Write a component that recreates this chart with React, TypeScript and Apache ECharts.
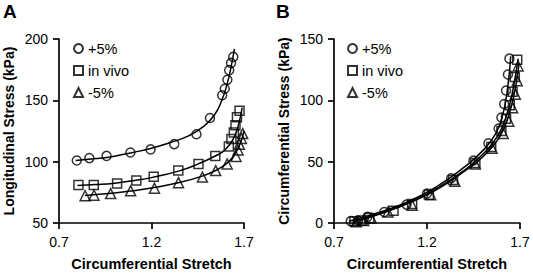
import React, { useEffect, useRef } from "react";
import * as echarts from "echarts";

// Panel A (longitudinal stress) measured points
const aCircleX = [0.796, 0.864, 0.957, 1.086, 1.195, 1.323, 1.443, 1.516, 1.582, 1.596, 1.61, 1.62, 1.63, 1.642];
const aCircleY = [101.0, 102.9, 104.7, 107.5, 110.0, 114.3, 122.4, 135.6, 154.2, 159.5, 166.7, 174.6, 180.5, 185.4];
const aSquareX = [0.805, 0.888, 1.014, 1.118, 1.212, 1.345, 1.454, 1.545, 1.618, 1.632, 1.645, 1.654, 1.662, 1.676];
const aSquareY = [81.0, 81.0, 82.3, 84.7, 87.7, 92.7, 98.1, 104.6, 112.3, 118.4, 123.7, 129.6, 136.3, 141.6];
const aTriX = [0.841, 0.889, 0.979, 1.087, 1.216, 1.346, 1.475, 1.547, 1.609, 1.657, 1.668, 1.675, 1.686, 1.693];
const aTriY = [72.2, 72.7, 74.0, 76.2, 78.3, 82.9, 87.4, 92.7, 98.1, 104.2, 109.5, 114.1, 118.9, 122.9];

// Panel A fitted curves
const aFitCircleX = [0.79, 0.9, 1.0, 1.1, 1.2, 1.3, 1.4, 1.48, 1.54, 1.58, 1.61, 1.63, 1.648];
const aFitCircleY = [101, 102.5, 104.5, 107.5, 111, 115.5, 121, 128.5, 138, 150, 164, 177, 192];
const aFitSquareX = [0.8, 0.9, 1.0, 1.1, 1.2, 1.35, 1.45, 1.55, 1.6, 1.64, 1.67, 1.69];
const aFitSquareY = [80.5, 81.3, 82.5, 84.5, 87, 92.5, 98, 105, 110, 118, 130, 144];
const aFitTriX = [0.84, 0.9, 1.0, 1.1, 1.2, 1.35, 1.47, 1.55, 1.61, 1.65, 1.68, 1.7];
const aFitTriY = [72.5, 73.2, 74.5, 76.3, 78.5, 83, 88, 93, 99, 106, 115, 125];

// Panel B (circumferential stress) measured points
const bCircleX = [0.79, 0.83, 0.88, 0.97, 1.09, 1.2, 1.33, 1.45, 1.53, 1.585, 1.6, 1.615, 1.625, 1.635, 1.643];
const bCircleY = [1.5, 2.0, 5.0, 9.0, 15.0, 24.0, 36.5, 51.0, 65.0, 77.0, 86.0, 97.0, 108.0, 121.0, 134.0];
const bSquareX = [0.81, 0.85, 0.89, 1.02, 1.12, 1.21, 1.34, 1.46, 1.545, 1.6, 1.625, 1.645, 1.66, 1.672, 1.685];
const bSquareY = [1.5, 2.0, 4.0, 10.0, 15.5, 23.0, 35.0, 49.0, 62.0, 75.0, 85.0, 96.0, 107.0, 119.0, 133.0];
const bTriX = [0.82, 0.86, 0.9, 0.99, 1.12, 1.22, 1.35, 1.46, 1.55, 1.61, 1.64, 1.66, 1.675, 1.685, 1.69];
const bTriY = [1.0, 2.0, 4.0, 9.0, 14.5, 23.0, 34.0, 48.0, 61.0, 73.0, 83.0, 94.0, 105.0, 116.0, 128.0];

// Panel B fitted curves
const bFitCircleX = [0.78, 0.95, 1.1, 1.25, 1.4, 1.5, 1.57, 1.61, 1.635, 1.65];
const bFitCircleY = [1.5, 9, 17.5, 29.5, 45.5, 59, 73, 90, 112, 136];
const bFitSquareX = [0.8, 0.95, 1.1, 1.25, 1.4, 1.5, 1.58, 1.63, 1.665, 1.69];
const bFitSquareY = [1, 8, 16.5, 28, 43, 56, 71, 89, 111, 134];
const bFitTriX = [0.81, 0.95, 1.1, 1.25, 1.4, 1.5, 1.59, 1.64, 1.675, 1.695];
const bFitTriY = [1, 7.5, 16, 27, 42, 54, 70, 88, 110, 130];

const seriesNames = ["+5%", "in vivo", "-5%"];
const symbols = ["circle", "rect", "triangle"];
const xTicks = [0.7, 1.2, 1.7];
const aYTicks = [50, 100, 150, 200];
const bYTicks = [0, 50, 100, 150];

const FONT = "Liberation Sans, Arial, Helvetica, sans-serif";

const zip = (xs: number[], ys: number[]) => xs.map((x, i) => [x, ys[i]]);

function xAxisCfg(gridIndex: number) {
  return {
    type: "value",
    gridIndex,
    min: 0.7,
    max: 1.7,
    name: "Circumferential Stretch",
    nameLocation: "middle",
    nameGap: 33,
    nameTextStyle: { fontFamily: FONT, fontWeight: "bold", fontSize: 14.5, color: "#000" },
    axisLine: { show: true, onZero: false, lineStyle: { color: "#000", width: 1.7 } },
    axisTick: { show: true, length: 6, customValues: xTicks, lineStyle: { color: "#000", width: 1.7 } },
    axisLabel: {
      customValues: xTicks,
      formatter: (v: number) => v.toFixed(1),
      fontFamily: FONT,
      fontSize: 14,
      color: "#000",
      margin: 12,
    },
    splitLine: { show: false },
  };
}

function yAxisCfg(gridIndex: number, min: number, max: number, ticks: number[], name: string) {
  return {
    type: "value",
    gridIndex,
    min,
    max,
    interval: 50,
    name,
    nameLocation: "middle",
    nameGap: 43,
    nameTextStyle: { fontFamily: FONT, fontWeight: "bold", fontSize: 14, color: "#000" },
    axisLine: { show: true, onZero: false, lineStyle: { color: "#000", width: 1.7 } },
    axisTick: { show: true, length: 6, customValues: ticks, lineStyle: { color: "#000", width: 1.7 } },
    axisLabel: { customValues: ticks, fontFamily: FONT, fontSize: 14, color: "#000", margin: 11 },
    splitLine: { show: false },
  };
}

function scatter(name: string, symbol: string, idx: number, data: number[][]) {
  return {
    type: "scatter",
    name,
    xAxisIndex: idx,
    yAxisIndex: idx,
    symbol,
    symbolSize: symbol === "triangle" ? 10 : 9,
    data,
    z: 3,
    itemStyle: { color: "rgba(255,255,255,0)", borderColor: "#000", borderWidth: 1.5 },
  };
}

function fit(name: string, idx: number, data: number[][]) {
  return {
    type: "line",
    name,
    xAxisIndex: idx,
    yAxisIndex: idx,
    data,
    smooth: 0.5,
    showSymbol: false,
    symbol: "none",
    z: 2,
    lineStyle: { color: "#000", width: 1.5 },
  };
}

export default function App() {
  const ref = useRef<HTMLDivElement>(null);
  useEffect(() => {
    if (!ref.current) return;
    const chart = echarts.init(ref.current, undefined, { renderer: "svg" });
    const legendCfg = (left: number, gap: number) => ({
      orient: "vertical",
      left,
      top: 36,
      itemWidth: 9,
      itemHeight: 9,
      itemGap: 7,
      itemTextGap: gap,
      selectedMode: false,
      data: seriesNames,
      textStyle: { fontFamily: FONT, fontSize: 14.5, color: "#000", lineHeight: 15 },
    });
    chart.setOption({
      animation: false,
      backgroundColor: "#fff",
      grid: [
        { left: 59, top: 39, width: 185, height: 187 },
        { left: 334, top: 39, width: 186, height: 187 },
      ],
      xAxis: [xAxisCfg(0), xAxisCfg(1)],
      yAxis: [
        yAxisCfg(0, 50, 200, aYTicks, "Longitudinal Stress (kPa)"),
        yAxisCfg(1, 0, 150, bYTicks, "Circumferential Stress (kPa)"),
      ],
      legend: [legendCfg(68, 19), legendCfg(342, 18)],
      graphic: [
        { type: "text", left: 3, top: 2, style: { text: "A", font: `bold 19px ${FONT}`, fill: "#000" } },
        { type: "text", left: 276, top: 2, style: { text: "B", font: `bold 19px ${FONT}`, fill: "#000" } },
      ],
      series: [
        fit("fitA1", 0, zip(aFitCircleX, aFitCircleY)),
        fit("fitA2", 0, zip(aFitSquareX, aFitSquareY)),
        fit("fitA3", 0, zip(aFitTriX, aFitTriY)),
        scatter(seriesNames[0], symbols[0], 0, zip(aCircleX, aCircleY)),
        scatter(seriesNames[1], symbols[1], 0, zip(aSquareX, aSquareY)),
        scatter(seriesNames[2], symbols[2], 0, zip(aTriX, aTriY)),
        fit("fitB1", 1, zip(bFitCircleX, bFitCircleY)),
        fit("fitB2", 1, zip(bFitSquareX, bFitSquareY)),
        fit("fitB3", 1, zip(bFitTriX, bFitTriY)),
        scatter(seriesNames[0], symbols[0], 1, zip(bCircleX, bCircleY)),
        scatter(seriesNames[1], symbols[1], 1, zip(bSquareX, bSquareY)),
        scatter(seriesNames[2], symbols[2], 1, zip(bTriX, bTriY)),
      ],
    });
    return () => chart.dispose();
  }, []);
  return (
    <div
      ref={ref}
      style={{ position: "absolute", left: 0, top: 0, width: 533, height: 276 }}
    />
  );
}
